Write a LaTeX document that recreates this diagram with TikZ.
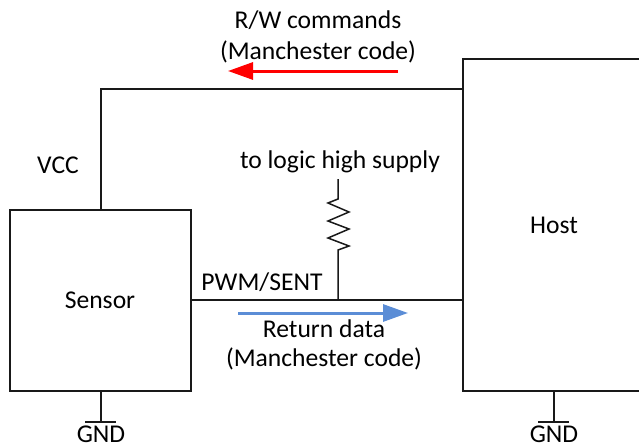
\documentclass[tikz,border=0pt]{standalone}
\usepackage{fontspec}
\setmainfont{Carlito}
\usetikzlibrary{arrows.meta}
\definecolor{bluearrow}{HTML}{5B8DD6}
\tikzset{
  wire/.style={draw=black!90,line width=1.5pt},
  block/.style={wire,rectangle,inner sep=0pt,outer sep=0pt,anchor=north west},
  lbl/.style={inner sep=0pt,font=\fontsize{25.6}{30}\selectfont,text=black},
  flow/.style={line width=3pt,-{Triangle[length=25pt,width=17pt]}},
}
\begin{document}
\begin{tikzpicture}[x=1pt,y=-1pt]
\useasboundingbox (0,0) rectangle (639,444);
\node[block,minimum width=181pt,minimum height=181pt] (sensor) at (10,210) {};
\node[block,minimum width=190pt,minimum height=332pt] (host) at (463,59) {};
\node[lbl] (sensorlbl) at (100,300.5) {Sensor};
\node[lbl] (hostlbl) at (554,225.5) {Host};
\node[lbl] (vcc) at (58,165) {VCC};
\node[lbl] (supply) at (340,162) {to logic high supply};
\node[lbl] (pwm) at (262,282.5) {PWM/SENT};
\node[lbl] (rw) at (318,20) {R/W commands};
\node[lbl] (rwcode) at (318,51.5) {(Manchester code)};
\node[lbl] (ret) at (324,328.5) {Return data};
\node[lbl] (retcode) at (324,359) {(Manchester code)};
\node[lbl] (gnda) at (101,434) {GND};
\node[lbl] (gndb) at (554,434) {GND};
% VCC rail
\coordinate (vs) at (101,210);
\coordinate (vh) at (463,89);
\draw[wire] (vs) |- (vh);
% signal line
\coordinate (ss) at (191,300);
\coordinate (sh) at (463,300);
\coordinate (rj) at (338,300);
\coordinate (rt) at (338,179);
\draw[wire] (ss) -- (sh);
% pull-up resistor
\draw[wire,line join=miter] (rt) -- (338,199) -- (328,203) -- (349,212) -- (328,221) -- (349,229) -- (328,238) -- (349,246) -- (338,250) -- (rj);
% grounds
\coordinate (ga) at (101,391);
\coordinate (gat) at (101,422);
\coordinate (gb) at (554,391);
\coordinate (gbt) at (554,422);
\draw[wire] (ga) -- (gat);
\draw[wire] (85,422) -- (116,422);
\draw[wire] (gb) -- (gbt);
\draw[wire] (538,422) -- (569,422);
% flow arrows
\coordinate (ra) at (398,71);
\coordinate (rb) at (228,71);
\coordinate (ba) at (238,313);
\coordinate (bb) at (408,313);
\draw[flow,color=red] (ra) -- (rb);
\draw[flow,color=bluearrow] (ba) -- (bb);
\end{tikzpicture}
\end{document}
